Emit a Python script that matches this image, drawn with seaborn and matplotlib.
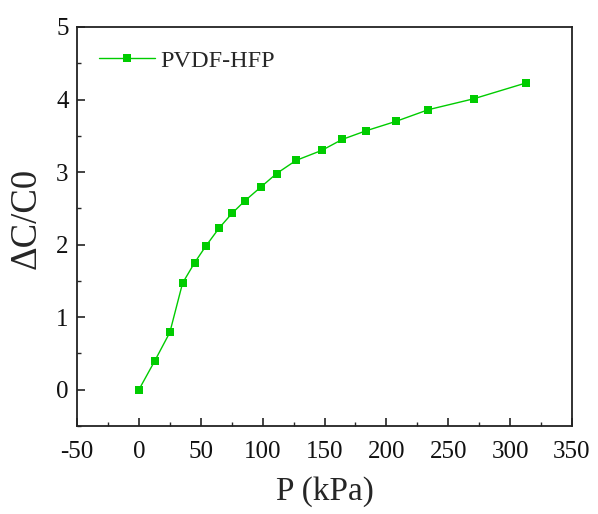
import glob
import matplotlib
matplotlib.use("Agg")
import matplotlib.pyplot as plt
from matplotlib import font_manager
from matplotlib.ticker import MultipleLocator
import seaborn as sns
import pandas as pd

# Pressure (kPa) and relative capacitance change for the PVDF-HFP sensor
pressure = [0, 12.9, 25.0, 35.3, 45.0, 54.1, 64.9, 75.2, 85.4, 98.3, 111.3,
            126.9, 147.9, 164.3, 183.7, 207.9, 233.9, 270.5, 313.1]
delta_c = [0.00, 0.40, 0.79, 1.47, 1.75, 1.98, 2.23, 2.43, 2.60, 2.79, 2.98,
           3.16, 3.30, 3.45, 3.57, 3.70, 3.86, 4.01, 4.23]
series_name = "PVDF-HFP"

df = pd.DataFrame({"P": pressure, "dC": delta_c, "sample": series_name})

sns.set_style("ticks")

# Register a Times-like serif face from the system font folders
serif = "DejaVu Serif"
for pattern in ["/usr/share/fonts/**/LiberationSerif-Regular.ttf",
                "/usr/**/LiberationSerif-Regular.ttf"]:
    hits = glob.glob(pattern, recursive=True)
    if hits:
        font_manager.fontManager.addfont(hits[0])
        serif = font_manager.FontProperties(fname=hits[0]).get_name()
        break

plt.rcParams["font.family"] = [serif, "DejaVu Serif"]
plt.rcParams["axes.unicode_minus"] = False

fig = plt.figure(figsize=(5.98, 5.14), dpi=100)
ax = fig.add_axes([0.1288, 0.1712, 0.8277, 0.7763])

green = "#00cc00"
sns.lineplot(data=df, x="P", y="dC", hue="sample", palette=[green],
             marker="s", markersize=6.3, markeredgewidth=0, linewidth=1.0,
             ax=ax, sort=False)

ax.set_xlim(-50, 350)
ax.set_ylim(-0.5, 5)
ax.xaxis.set_major_locator(MultipleLocator(50))
ax.xaxis.set_minor_locator(MultipleLocator(25))
ax.yaxis.set_major_locator(MultipleLocator(1))
ax.yaxis.set_minor_locator(MultipleLocator(0.5))
ax.set_yticks([0, 1, 2, 3, 4, 5])

ax.tick_params(which="major", direction="in", length=5.5, width=1.1,
               labelsize=18, top=False, right=False, colors="#111111")
ax.tick_params(axis="x", which="major", pad=11)
ax.tick_params(axis="y", which="major", pad=6)
ax.tick_params(which="minor", direction="in", length=2.8, width=1.0,
               top=False, right=False)

for side in ["left", "bottom", "top", "right"]:
    ax.spines[side].set_visible(True)
    ax.spines[side].set_linewidth(1.3)
    ax.spines[side].set_color("#222222")

ax.set_xlabel("P (kPa)", fontsize=24)
ax.set_ylabel("ΔC/C0", fontsize=26.5)
ax.xaxis.set_label_coords(0.5, -0.127)
ax.yaxis.set_label_coords(-0.068, 0.519)

leg = ax.legend(loc="center left", frameon=False, fontsize=17.5,
                handlelength=2.3, handletextpad=0.25,
                bbox_to_anchor=(0.044, 0.915), borderaxespad=0, borderpad=0)

fig.savefig("out.png", dpi=100)
